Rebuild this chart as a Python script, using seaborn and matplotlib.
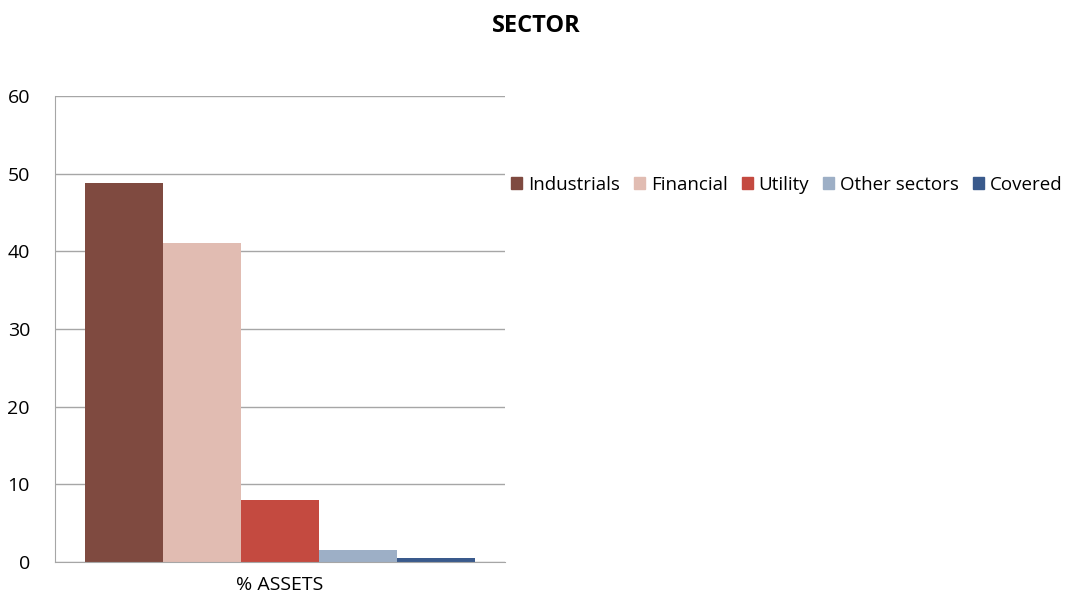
import numpy as np
import pandas as pd
import matplotlib
matplotlib.use('Agg')
import matplotlib.pyplot as plt
import seaborn as sns

sectors = ['Industrials', 'Financial', 'Utility', 'Other sectors', 'Covered']
assets = [48.8, 41.1, 8.0, 1.55, 0.5]
category = ['% ASSETS']
colors = ['#7F4A40', '#E1BCB2', '#C44A40', '#9DAFC6', '#3A5A8C']

sns.set_style('white')
plt.rcParams['font.family'] = ['Open Sans', 'DejaVu Sans']
plt.rcParams['text.color'] = 'black'
plt.rcParams['xtick.color'] = 'black'
plt.rcParams['ytick.color'] = 'black'

df = pd.DataFrame({'cat': category * len(sectors), 'sector': sectors, 'value': assets})

fig = plt.figure(figsize=(10.73, 5.99), dpi=100)
ax = fig.add_axes([55 / 1073, 37 / 599, 450 / 1073, 466 / 599])
sns.barplot(data=df, x='cat', y='value', hue='sector', palette=colors,
            width=0.867, gap=0, ax=ax, legend=False, saturation=1, linewidth=0)

ax.set_ylim(0, 60)
ax.set_yticks(np.arange(0, 61, 10))
ax.yaxis.grid(True, color='#A6A6A6', linewidth=1)
ax.set_axisbelow(True)
for s in ['top', 'right']:
    ax.spines[s].set_visible(False)
for s in ['left', 'bottom']:
    ax.spines[s].set_color('#A6A6A6')
ax.tick_params(axis='y', labelsize=14, length=0, pad=18)
ax.tick_params(axis='x', labelsize=14, length=0, pad=10)
ax.set_xlabel('')
ax.set_ylabel('')

handles = [plt.Rectangle((0, 0), 1, 1, color=c) for c in colors]
fig.legend(handles, sectors, ncol=5, loc='center left', frameon=False,
           bbox_to_anchor=(498 / 1073, 1 - 185 / 599), fontsize=13.5,
           handlelength=0.6, handleheight=0.6, handletextpad=0.3, columnspacing=0.75,
           borderpad=0.2)

fig.suptitle('SECTOR', fontsize=17, fontweight='bold', y=1 - 26 / 599, va='center')
fig.savefig('out.png', dpi=100)
